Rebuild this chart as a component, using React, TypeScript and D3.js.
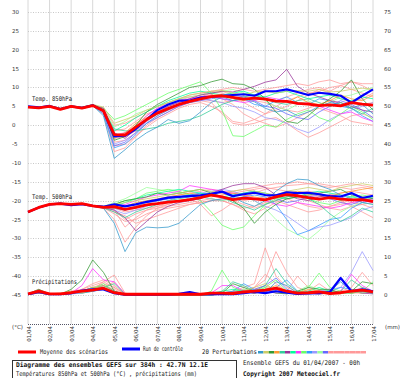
import React from "react";
import * as d3 from "d3";

const dayLabels = ["01/04","02/04","03/04","04/04","05/04","06/04","07/04","08/04","09/04","10/04","11/04","12/04","13/04","14/04","15/04","16/04","17/04"];
const leftTicks = [30,25,20,15,10,5,0,-5,-10,-15,-20,-25,-30,-35,-40,-45];
const rightTicks = [75,70,65,60,55,50,45,40,35,30,25,20,15,10,5,0];

const memberColors = ["#3399cc","#cccc66","#339933","#ff9933","#33cc99","#993399","#00ff99","#ff33ff","#66ff66","#3399ff","#9999ff","#99ff99","#6666ff","#ff9999","#ff9999","#ff9999","#ff9999","#ff9999","#ff9999","#ff9999"];

// 12-hourly steps, 0h .. 384h (33 values)
const meanT850 = [4.8,4.6,5.0,4.2,5.0,4.5,5.2,3.8,-2.5,-2.6,-0.5,1.5,3.2,4.4,5.5,6.3,7.0,7.6,7.8,7.4,6.9,7.2,6.9,6.4,6.3,5.8,5.6,5.2,5.4,5.1,6.0,5.6,5.3];
const ctrlT850 = [5.0,4.7,5.1,4.3,5.0,4.6,5.3,3.8,-3.0,-2.8,-1.0,1.5,4.0,5.5,6.5,6.5,7.3,7.5,7.8,8.0,8.2,7.8,9.0,9.0,9.5,8.8,8.0,8.6,8.3,7.8,6.0,7.8,9.5];
const pertT850 = [
  [5.0,4.7,5.1,4.2,5.0,4.5,5.2,2.5,-8.8,-6.5,-4.0,-2.0,-0.5,1.5,0.5,1.2,3.5,6.0,7.5,6.5,7.0,6.2,4.5,3.5,4.0,2.5,3.5,5.0,6.0,5.5,4.5,5.5,3.0],
  [4.9,4.8,5.2,4.5,5.1,4.8,5.5,4.8,0.5,1.5,2.5,4.0,5.0,6.0,7.0,8.0,8.5,9.0,9.2,8.5,8.0,8.8,9.0,8.5,9.0,9.2,9.0,9.5,8.8,9.0,9.5,9.8,9.5],
  [4.8,4.5,5.0,4.3,4.9,4.6,5.3,4.0,-4.0,-3.0,0.0,3.5,5.5,7.0,8.5,10.0,10.5,11.5,12.2,11.0,10.8,9.5,7.0,3.5,1.0,0.5,2.5,5.0,7.0,9.0,12.0,7.0,4.0],
  [4.7,4.6,4.9,4.2,5.0,4.4,5.1,3.5,-3.5,-2.0,0.5,2.0,3.0,4.5,5.5,6.5,7.0,8.0,8.0,7.0,6.5,7.5,7.0,6.5,6.0,7.5,6.0,5.5,6.5,8.0,7.0,6.5,8.0],
  [4.8,4.7,5.1,4.4,5.0,4.5,5.2,4.0,-1.0,-1.5,-1.5,-1.0,-0.5,0.5,1.0,1.5,2.5,4.0,5.5,6.5,7.5,8.0,7.0,6.0,5.5,6.5,7.0,6.0,5.0,6.0,4.5,3.0,4.5],
  [4.9,4.6,5.0,4.3,5.0,4.6,5.3,4.5,-2.0,-3.5,-1.0,1.5,3.5,5.0,6.0,7.0,8.0,8.5,9.0,8.8,9.5,10.3,11.4,12.0,14.8,10.3,8.5,7.5,6.5,6.0,5.0,4.0,3.5],
  [4.8,4.7,5.0,4.3,5.1,4.7,5.4,4.2,-1.5,0.0,2.0,3.5,5.0,6.5,7.5,8.5,9.0,8.5,8.0,8.5,9.0,8.0,7.5,8.5,9.0,8.0,7.0,7.5,8.0,7.0,6.5,7.5,7.0],
  [4.8,4.6,5.0,4.2,5.0,4.6,5.2,3.8,-3.0,-2.0,-0.5,2.5,4.5,5.5,6.5,7.0,7.5,8.0,7.0,6.5,6.0,6.5,7.5,7.0,6.5,5.5,6.0,5.0,4.0,3.0,3.5,2.0,1.0],
  [4.9,4.7,5.1,4.4,5.0,4.7,5.4,4.5,1.5,2.5,4.0,5.5,7.0,8.5,9.5,10.5,11.5,8.5,4.0,-2.8,-3.0,-1.5,0.0,-0.5,1.5,3.0,4.0,2.0,1.0,3.0,5.0,3.5,1.5],
  [4.8,4.6,5.0,4.3,5.0,4.5,5.2,3.0,-6.0,-5.0,-2.5,0.5,2.5,4.0,5.5,6.0,7.0,7.5,7.0,6.5,7.0,5.5,5.0,6.5,7.5,6.0,5.5,7.0,6.5,5.0,4.5,2.5,1.0],
  [4.8,4.6,5.0,4.3,5.0,4.6,5.3,3.5,-5.0,-4.0,-2.0,1.0,3.0,4.5,5.5,6.5,7.0,6.5,6.0,5.0,4.5,3.5,2.0,1.5,0.5,-1.0,-2.0,-0.5,1.5,3.0,4.0,5.0,6.0],
  [4.9,4.7,5.1,4.4,5.1,4.7,5.4,4.0,-0.5,1.0,3.0,4.0,5.0,6.0,7.0,7.5,8.0,8.5,9.0,9.5,8.5,8.0,6.5,5.0,4.0,5.5,6.5,5.0,6.0,7.5,8.0,9.0,10.0],
  [4.8,4.6,5.0,4.2,5.0,4.5,5.2,3.5,-5.5,-4.5,-2.0,0.5,2.0,3.5,5.0,6.0,6.5,7.0,7.5,8.0,7.5,6.5,5.0,4.5,3.0,2.0,1.5,3.5,5.0,6.5,5.5,4.0,2.0],
  [4.8,4.7,5.0,4.3,5.0,4.6,5.3,4.0,-2.5,-2.0,0.0,2.5,4.5,6.0,7.0,8.0,8.5,9.0,9.5,10.0,9.5,9.0,9.5,10.0,10.5,11.0,10.5,11.5,12.0,11.0,11.5,11.0,11.0],
  [4.8,4.6,5.0,4.3,5.0,4.6,5.3,3.5,-4.5,-4.0,-2.0,0.5,2.5,4.0,5.0,6.0,6.5,6.0,3.0,0.5,0.0,0.5,1.5,2.0,0.5,-1.5,-3.2,-2.0,-0.5,1.0,2.5,3.0,2.0],
  [4.9,4.7,5.1,4.4,5.0,4.6,5.3,3.8,-3.5,-3.0,-1.5,1.0,3.0,5.0,6.5,7.5,8.0,9.0,8.5,7.5,6.0,4.5,3.0,4.0,5.0,6.5,8.0,9.5,8.5,7.0,6.0,7.0,8.5],
  [4.8,4.6,5.0,4.2,5.0,4.5,5.2,3.0,-7.0,-6.0,-3.0,-0.5,1.5,3.0,4.5,5.5,6.0,5.0,3.5,1.0,0.5,1.5,3.0,5.0,6.5,7.5,8.5,9.0,10.0,10.5,9.5,8.5,7.5],
  [4.8,4.7,5.0,4.3,5.0,4.6,5.3,4.2,-1.5,-1.0,1.0,3.0,4.0,5.0,6.0,7.0,7.5,8.0,7.0,5.5,3.0,1.5,0.5,-0.5,0.5,2.0,3.5,4.5,3.5,2.5,1.0,0.5,0.0],
  [4.8,4.6,5.0,4.3,5.0,4.6,5.3,3.5,-5.5,-5.0,-3.0,0.0,2.0,3.5,5.0,6.5,7.5,8.5,9.0,8.0,7.5,8.0,7.0,6.5,7.5,8.5,9.5,10.0,9.0,10.5,11.5,10.5,9.0],
  [4.9,4.7,5.1,4.4,5.1,4.7,5.4,4.5,0.0,0.5,2.0,3.5,5.0,6.0,7.0,7.5,7.0,6.5,6.0,6.5,7.0,6.5,6.0,5.0,4.0,3.5,4.5,5.5,6.5,5.5,4.5,5.5,6.0]
];

const meanT500 = [-23.0,-21.8,-21.0,-20.8,-21.0,-20.8,-21.4,-21.8,-21.6,-22.3,-21.8,-21.1,-20.8,-20.4,-20.1,-19.7,-19.2,-18.5,-19.0,-19.7,-19.3,-19.5,-19.8,-19.0,-18.4,-18.7,-19.2,-19.6,-19.2,-19.6,-19.8,-19.7,-20.2];
const ctrlT500 = [-23.0,-21.8,-21.0,-20.8,-21.2,-20.9,-21.4,-21.6,-21.0,-21.5,-21.0,-20.3,-19.8,-19.2,-19.0,-18.8,-18.6,-18.2,-17.6,-18.8,-18.3,-17.9,-18.5,-18.6,-17.8,-18.0,-17.9,-18.3,-18.8,-18.9,-18.0,-19.3,-18.7];
const pertT500 = [
  [-23.2,-21.9,-21.1,-20.6,-21.2,-20.9,-21.5,-22.0,-26.0,-33.5,-28.5,-27.0,-27.2,-27.0,-26.0,-23.5,-21.0,-20.0,-19.5,-19.0,-20.5,-21.5,-20.0,-17.5,-15.5,-14.3,-14.5,-16.0,-17.0,-18.5,-19.5,-20.5,-21.0],
  [-23.0,-21.8,-21.0,-20.7,-21.0,-20.7,-21.3,-21.5,-21.0,-20.5,-20.0,-19.5,-19.0,-18.5,-18.0,-17.5,-17.0,-17.5,-18.0,-17.5,-17.0,-17.5,-18.0,-18.5,-17.5,-17.0,-16.5,-17.0,-17.5,-16.5,-16.0,-15.5,-16.0],
  [-23.1,-21.8,-21.0,-20.8,-21.1,-20.9,-21.4,-21.7,-21.0,-20.0,-19.5,-19.0,-18.0,-18.5,-18.0,-17.5,-17.0,-18.0,-19.0,-20.0,-22.0,-26.0,-23.0,-21.0,-19.5,-19.0,-18.5,-18.0,-17.5,-17.0,-18.5,-19.0,-19.5],
  [-23.0,-21.7,-21.0,-20.8,-21.0,-20.8,-21.4,-21.8,-22.0,-21.5,-20.5,-20.0,-19.5,-19.0,-18.5,-18.0,-18.5,-19.0,-18.5,-18.0,-18.5,-19.0,-19.5,-19.0,-18.0,-17.5,-18.0,-18.5,-19.0,-18.0,-17.5,-17.0,-16.5],
  [-23.1,-21.9,-21.0,-20.8,-21.1,-20.9,-21.5,-21.9,-23.0,-24.5,-23.0,-22.0,-21.0,-20.0,-19.5,-19.0,-18.5,-18.0,-19.0,-20.5,-21.5,-22.5,-21.0,-20.0,-19.0,-18.5,-19.5,-21.0,-23.5,-25.5,-24.0,-22.0,-23.0],
  [-23.0,-21.8,-21.0,-20.8,-21.0,-20.8,-21.4,-21.8,-22.5,-24.5,-28.0,-25.5,-23.0,-21.5,-20.5,-20.0,-19.5,-18.0,-17.0,-16.0,-15.5,-15.5,-16.5,-18.5,-18.5,-19.5,-20.0,-19.0,-18.5,-19.0,-20.0,-19.5,-20.5],
  [-23.0,-21.8,-21.1,-20.8,-21.0,-20.8,-21.3,-21.7,-21.5,-20.5,-19.5,-18.5,-18.0,-17.5,-17.0,-17.5,-18.0,-18.5,-19.0,-18.5,-18.0,-17.5,-18.0,-19.0,-19.5,-19.0,-18.0,-17.5,-18.0,-18.5,-19.0,-19.5,-19.0],
  [-23.0,-21.8,-21.0,-20.8,-21.0,-20.8,-21.4,-21.8,-21.5,-21.0,-20.0,-19.0,-18.5,-18.0,-17.5,-16.0,-16.5,-17.0,-17.5,-18.0,-18.5,-19.5,-20.0,-21.0,-21.5,-20.5,-21.0,-21.5,-22.0,-21.5,-20.5,-20.0,-20.5],
  [-23.0,-21.8,-21.0,-20.8,-21.0,-20.8,-21.4,-21.6,-21.0,-20.0,-19.5,-18.0,-17.5,-17.0,-17.5,-18.5,-20.0,-23.0,-26.5,-27.7,-27.0,-24.0,-21.0,-19.5,-19.0,-18.5,-19.5,-20.5,-21.0,-20.0,-19.0,-18.5,-19.0],
  [-23.0,-21.8,-21.0,-20.8,-21.0,-20.8,-21.4,-21.8,-22.0,-22.5,-21.5,-20.5,-20.0,-19.5,-19.0,-18.5,-18.0,-18.5,-19.0,-19.5,-19.0,-18.5,-19.0,-21.0,-25.0,-29.0,-28.0,-26.5,-25.0,-24.5,-22.0,-20.5,-20.0],
  [-23.0,-21.8,-21.0,-20.8,-21.0,-20.8,-21.4,-21.8,-22.5,-23.5,-22.5,-21.5,-20.5,-20.0,-19.0,-18.5,-18.0,-17.5,-17.0,-17.5,-18.5,-20.0,-21.5,-22.5,-24.0,-26.0,-28.0,-27.0,-26.5,-25.5,-24.5,-22.5,-21.5],
  [-23.0,-21.8,-21.0,-20.8,-21.0,-20.8,-21.4,-21.5,-20.5,-19.5,-18.0,-16.5,-17.0,-17.5,-18.0,-18.5,-19.0,-19.5,-20.0,-19.5,-19.0,-20.0,-22.0,-25.0,-27.5,-29.0,-30.3,-28.0,-25.0,-23.0,-21.5,-20.5,-21.0],
  [-23.0,-21.8,-21.0,-20.8,-21.0,-20.8,-21.4,-21.8,-22.0,-21.5,-21.0,-20.5,-20.0,-19.5,-19.0,-18.5,-19.0,-19.5,-20.0,-19.0,-18.0,-17.5,-18.5,-19.5,-20.5,-20.0,-19.0,-18.5,-19.5,-20.5,-21.0,-20.0,-19.5],
  [-23.0,-21.8,-21.0,-20.8,-21.0,-20.8,-21.4,-22.0,-25.0,-31.0,-27.0,-24.0,-22.0,-21.0,-20.0,-19.5,-19.0,-18.5,-18.0,-17.5,-17.0,-16.5,-16.0,-15.5,-15.5,-15.0,-15.5,-16.0,-16.5,-16.0,-15.5,-16.0,-16.5],
  [-23.0,-21.8,-21.0,-20.8,-21.0,-20.8,-21.4,-21.9,-23.5,-25.5,-25.0,-23.5,-22.5,-22.0,-21.5,-21.0,-20.5,-20.0,-19.5,-20.0,-21.0,-22.0,-21.0,-20.0,-19.0,-18.0,-17.5,-18.0,-19.0,-20.0,-21.5,-23.0,-24.5],
  [-23.0,-21.8,-21.0,-20.8,-21.0,-20.8,-21.4,-21.8,-23.0,-24.0,-26.0,-25.0,-24.0,-23.0,-22.0,-21.0,-20.5,-20.0,-20.0,-21.0,-22.5,-23.5,-22.0,-20.5,-19.5,-19.0,-20.0,-21.0,-22.0,-22.5,-21.5,-21.0,-22.0],
  [-23.0,-21.8,-21.0,-20.8,-21.0,-20.8,-21.4,-21.8,-22.0,-23.0,-22.5,-22.0,-21.5,-21.0,-20.0,-19.5,-21.0,-24.0,-22.5,-20.5,-19.0,-18.0,-17.0,-16.5,-16.0,-15.8,-15.5,-15.5,-16.0,-16.5,-17.0,-16.5,-17.0],
  [-23.0,-21.8,-21.0,-20.8,-21.0,-20.8,-21.4,-21.7,-22.5,-27.0,-24.5,-22.5,-21.5,-20.5,-20.0,-19.5,-19.0,-18.5,-19.0,-19.5,-20.0,-19.5,-19.0,-18.5,-19.5,-20.5,-21.5,-22.0,-21.5,-21.0,-20.5,-21.0,-20.5],
  [-23.0,-21.8,-21.0,-20.8,-21.0,-20.8,-21.4,-21.8,-22.0,-22.5,-22.0,-21.0,-20.0,-19.0,-18.5,-18.0,-17.5,-17.0,-17.5,-18.0,-17.5,-17.0,-16.5,-17.0,-17.5,-18.0,-18.5,-19.0,-18.5,-18.0,-17.5,-18.0,-18.5],
  [-23.0,-21.8,-21.0,-20.8,-21.0,-20.8,-21.4,-21.8,-22.5,-25.0,-23.5,-22.5,-22.0,-21.5,-21.0,-20.5,-20.0,-19.5,-20.0,-21.0,-22.0,-21.5,-20.5,-20.0,-21.0,-22.0,-23.0,-22.5,-21.5,-20.5,-20.0,-19.5,-19.0]
];

const meanPrecip = [0.3,1.0,0.3,0.3,0.6,1.0,1.3,1.8,0.6,0.2,0.2,0.2,0.2,0.2,0.2,0.2,0.2,0.5,0.5,0.4,0.8,1.0,1.3,1.8,1.0,0.5,0.6,0.8,0.4,0.6,1.0,1.3,0.8];
const ctrlPrecip = [0.2,0.8,0.2,0.2,0.5,1.2,1.5,1.5,0.5,0.1,0.1,0.1,0.1,0.1,0.3,0.8,0.2,0.2,0.3,0.2,0.5,0.8,0.5,1.0,0.6,0.3,0.4,0.5,0.8,4.5,1.0,1.5,1.0];
const pertPrecip = [
  [0.2,0.8,0.2,0.3,0.5,1.0,1.5,2.0,0.5,0.1,0,0,0,0,0,0,0,0,0.3,0.5,0.5,1.0,0.5,3.5,2.5,0.5,0.3,0.5,1.0,3.5,1.0,1.0,0.5],
  [0.3,1.0,0.3,0.5,1.0,0.5,1.5,2.5,0.8,0.1,0,0,0,0,0,0,0,0.2,0.5,0.3,1.0,2.0,3.0,1.0,0.5,0.3,0.5,1.0,0.5,0.3,1.0,0.5,1.0],
  [0.3,1.5,0.3,0.2,1.5,4.0,9.3,6.0,1.0,0.1,0,0,0,0,0,0,0,0.3,0.5,3.0,2.0,1.0,1.5,0.5,0.3,1.0,2.0,1.5,1.5,0.5,1.0,3.5,3.0],
  [0.2,0.5,0.2,0.3,0.5,1.0,2.0,1.5,0.5,0,0,0,0,0,0,0,0,0,0.3,0.5,1.0,0.5,1.5,2.5,1.0,0.5,1.5,1.0,0.5,1.0,0.5,1.5,0.5],
  [0.3,1.2,0.2,0.2,0.8,0.5,1.0,2.0,3.0,0.2,0,0,0,0,0,0,0.2,0.5,1.0,3.5,2.5,1.0,2.5,7.0,3.0,1.0,0.5,0.3,0.5,1.0,4.0,2.0,1.0],
  [0.2,0.5,0.2,0.2,0.5,1.0,1.5,2.5,1.0,0.1,0,0,0,0,0,0,0,0,0.5,0.8,1.0,0.5,1.0,1.5,0.5,0.3,0.5,0.3,0.5,0.5,1.0,0.5,0.3],
  [0.2,0.8,0.2,0.2,0.5,1.0,2.0,1.5,0.5,0,0,0,0,0,0,0,0,0,1.0,1.5,1.0,0.5,1.0,2.0,0.5,0.5,1.0,2.0,1.0,0.5,0.5,1.0,0.5],
  [0.3,1.0,0.3,0.3,0.5,2.5,7.0,4.0,3.5,0.3,0,0,0,0,0,0,0,0.5,2.5,2.5,1.0,0.5,1.0,0.5,0.5,0.3,0.5,0.3,0.5,1.0,5.5,2.5,1.0],
  [0.2,0.8,0.2,0.3,0.5,1.0,1.5,3.0,1.0,0.1,0,0,0,0,0,0,0,1.0,6.6,2.0,1.0,0.5,2.0,4.0,1.0,0.5,2.0,5.8,2.0,1.0,0.5,1.0,3.5],
  [0.2,0.5,0.2,0.2,0.3,0.8,1.0,1.5,0.5,0.1,0,0,0,0,0,0,0,0,0.5,1.0,3.0,1.5,1.0,2.0,4.0,1.0,0.5,0.5,1.0,2.0,1.5,0.5,0.8],
  [0.2,0.5,0.2,0.2,0.5,0.8,1.0,1.5,0.5,0,0,0,0,0,0,0,0,0,0.3,0.5,0.5,1.0,1.5,1.0,0.5,0.3,0.5,1.0,1.5,2.0,6.0,11.5,6.5],
  [0.2,0.8,0.2,0.2,0.5,1.0,2.0,2.5,1.0,0.1,0,0,0,0,0,0,0,0,0.5,1.0,1.5,1.0,2.0,1.0,0.5,1.0,2.5,1.5,1.0,0.5,1.0,0.5,1.0],
  [0.2,0.5,0.2,0.2,0.3,0.5,1.0,1.5,0.5,0,0,0,0,0,0,0,0,0,0.5,0.5,1.0,1.5,2.5,4.5,1.5,0.5,0.5,1.0,0.5,0.5,1.0,1.5,0.5],
  [0.3,1.5,0.3,0.5,1.0,1.5,2.5,3.5,5.3,0.5,0,0,0,0,0,0,0,0.3,0.5,1.0,2.0,3.0,12.5,5.0,2.0,1.0,0.5,0.5,1.0,0.5,1.0,1.5,1.0],
  [0.2,1.0,0.2,0.3,0.5,1.0,2.0,3.0,2.0,0.3,0,0,0,0,0,0,0,0.2,0.3,0.5,1.0,2.0,4.0,11.5,6.0,2.0,1.0,0.5,0.5,1.0,0.5,1.0,0.5],
  [0.2,0.8,0.2,0.3,0.5,1.5,3.0,4.0,2.5,0.2,0,0,0,0,0,0,0,0,0.3,0.5,1.0,1.5,2.5,1.5,1.0,5.0,2.0,1.0,0.5,1.0,2.0,6.0,2.5],
  [0.2,1.0,0.2,0.2,0.8,1.0,1.5,2.0,1.0,0.1,0,0,0,0,0,0,0,0,0.5,0.5,1.0,2.0,5.5,3.0,1.0,0.5,0.5,1.0,0.5,0.5,1.5,1.0,0.5],
  [0.2,0.5,0.2,0.2,0.5,0.8,1.5,2.0,3.5,0.3,0,0,0,0,0,0,0,0,0.3,0.5,0.5,1.0,1.0,2.0,1.0,0.5,1.0,3.0,1.0,0.5,0.5,1.0,0.5],
  [0.2,0.8,0.2,0.3,0.5,1.0,2.0,2.5,1.5,0.2,0,0,0,0,0,0,0,0.2,0.5,1.0,1.5,1.0,2.0,1.5,1.0,0.5,1.0,0.5,0.5,1.0,0.5,0.5,1.0],
  [0.3,1.2,0.3,0.3,1.0,1.0,1.5,3.5,2.0,0.2,0,0,0,0,0,0,0,0.2,0.5,0.5,1.0,0.5,1.5,1.0,0.5,0.5,0.5,1.0,1.5,0.5,1.0,2.0,1.0]
];

const mono = "'DejaVu Sans Mono', monospace";
const sans = "'DejaVu Sans', sans-serif";

export default function App() {
  const x = d3.scaleLinear().domain([0, 32]).range([28, 373]);
  const yL = d3.scaleLinear().domain([-45, 30]).range([295, 12]);
  const yR = d3.scaleLinear().domain([0, 75]).range([295, 12]);
  const lineT = d3.line<number>().x((_, i) => x(i)).y((d) => yL(d));
  const lineP = d3.line<number>().x((_, i) => x(i)).y((d) => yR(d));
  const order = d3.range(20).reverse();

  return (
    <svg width={400} height={378} style={{ position: "absolute", left: 0, top: 0, background: "#fff" }}>
      <rect x={0} y={0} width={400} height={378} fill="#fff" />
      {dayLabels.map((d, k) => (
        <line key={"v" + k} x1={x(k * 2)} x2={x(k * 2)} y1={0} y2={324} stroke="#d8d8d8" strokeWidth={1} />
      ))}
      {leftTicks.map((t) => (
        <line key={"h" + t} x1={28} x2={373} y1={Math.round(yL(t)) + 0.5} y2={Math.round(yL(t)) + 0.5} stroke="#c8c8c8" strokeDasharray="1,1.5" strokeWidth={1} />
      ))}
      <line x1={28} x2={373} y1={324.5} y2={324.5} stroke="#555566" strokeDasharray="1,1" strokeWidth={1} />
      {leftTicks.map((t) => (
        <text key={"l" + t} x={12} y={yL(t) + 2} fontFamily={sans} fontSize={5.5} fill="#333">{t}</text>
      ))}
      {rightTicks.map((t) => (
        <text key={"r" + t} x={384} y={yR(t) + 2} fontFamily={sans} fontSize={5.5} fill="#333">{t}</text>
      ))}
      {dayLabels.map((d, k) => (
        <text key={"d" + k} transform={`translate(${x(k * 2) + 2.5},326) rotate(-90)`} textAnchor="end" fontFamily={sans} fontSize={5.5} fill="#333">{d}</text>
      ))}
      <text x={12} y={329} fontFamily={sans} fontSize={5.5} fill="#333">(°C)</text>
      <text x={385} y={329} fontFamily={sans} fontSize={5.5} fill="#333">(mm)</text>
      <text x={32} y={101} fontFamily={mono} fontSize={6.5} textLength={40} lengthAdjust="spacingAndGlyphs" fill="#222">Temp. 850hPa</text>
      <text x={32} y={199} fontFamily={mono} fontSize={6.5} textLength={40} lengthAdjust="spacingAndGlyphs" fill="#222">Temp. 500hPa</text>
      <text x={32} y={284} fontFamily={mono} fontSize={6.5} textLength={45} lengthAdjust="spacingAndGlyphs" fill="#222">Précipitations</text>
      {order.map((m) => (
        <g key={"p" + m} fill="none" stroke={memberColors[m]} strokeWidth={0.9} strokeOpacity={0.85} strokeLinejoin="round">
          <path d={lineT(pertT850[m]) || ""} />
          <path d={lineT(pertT500[m]) || ""} />
          <path d={lineP(pertPrecip[m]) || ""} />
        </g>
      ))}
      <g fill="none" stroke="#0000ff" strokeWidth={2.2} strokeLinejoin="round">
        <path d={lineT(ctrlT850) || ""} />
        <path d={lineT(ctrlT500) || ""} />
        <path d={lineP(ctrlPrecip) || ""} />
      </g>
      <g fill="none" stroke="#ff0000" strokeWidth={2.8} strokeLinejoin="round">
        <path d={lineT(meanT850) || ""} />
        <path d={lineT(meanT500) || ""} />
        <path d={lineP(meanPrecip) || ""} />
      </g>
      <line x1={18} x2={36} y1={352} y2={352} stroke="#ff0000" strokeWidth={3} />
      <text x={40} y={354} fontFamily={mono} fontSize={6.5} textLength={68} lengthAdjust="spacingAndGlyphs" fill="#222">Moyenne des scénarios</text>
      <line x1={122} x2={140} y1={349} y2={349} stroke="#0000ff" strokeWidth={3} />
      <text x={143} y={351} fontFamily={mono} fontSize={6.5} textLength={40} lengthAdjust="spacingAndGlyphs" fill="#222">Run de contrôle</text>
      <text x={202} y={354} fontFamily={mono} fontSize={6.5} textLength={55} lengthAdjust="spacingAndGlyphs" fill="#222">20 Perturbations</text>
      {memberColors.map((c, k) => (
        <rect key={"s" + k} x={258 + k * 5.4} y={351} width={5.4} height={2.5} fill={c} />
      ))}
      <rect x={12.5} y={360.5} width={224} height={20} fill="none" stroke="#333" strokeWidth={1} />
      <text x={16} y={367} fontFamily={mono} fontSize={6.5} fontWeight="bold" textLength={192} lengthAdjust="spacingAndGlyphs" fill="#111">Diagramme des ensembles GEFS sur 384h : 42.7N 12.1E</text>
      <text x={16} y={376} fontFamily={mono} fontSize={6.5} textLength={181} lengthAdjust="spacingAndGlyphs" fill="#222">Températures 850hPa et 500hPa (°C) , précipitations (mm)</text>
      <text x={243} y={365} fontFamily={mono} fontSize={6.5} textLength={117} lengthAdjust="spacingAndGlyphs" fill="#222">Ensemble GEFS du 01/04/2007 - 00h</text>
      <text x={243} y={376} fontFamily={mono} fontSize={6.5} fontWeight="bold" textLength={97} lengthAdjust="spacingAndGlyphs" fill="#111">Copyright 2007 Meteociel.fr</text>
    </svg>
  );
}
